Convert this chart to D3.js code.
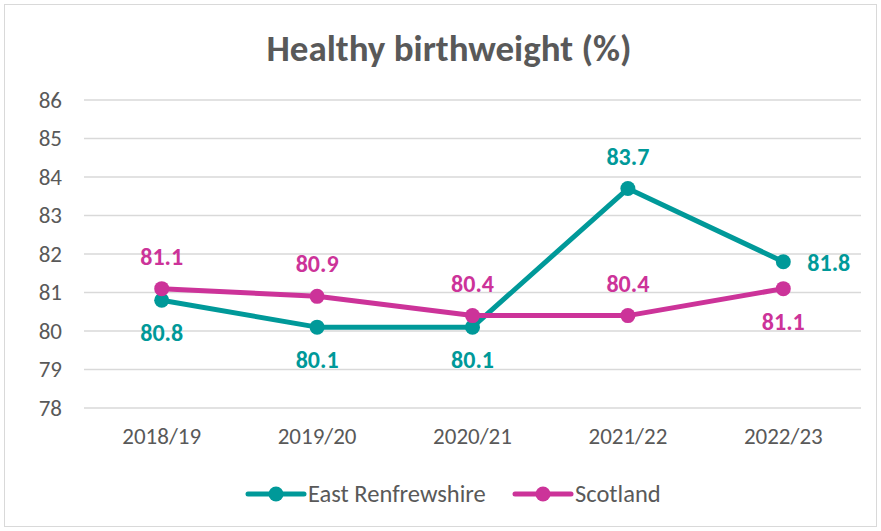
<!DOCTYPE html>
<html><head><meta charset="utf-8">
<script src="https://cdn.jsdelivr.net/npm/d3@7"></script>
<style>body{margin:0;background:#fff}svg{display:block}text{font-family:Calibri,Carlito,Lato,"Open Sans",sans-serif}</style>
</head><body><div id="chart"></div>
<script>
const categories = ["2018/19","2019/20","2020/21","2021/22","2022/23"];
const eastRenfrewshire = [80.8, 80.1, 80.1, 83.7, 81.8];
const scotland = [81.1, 80.9, 80.4, 80.4, 81.1];
const yTicks = [78,79,80,81,82,83,84,85,86];
const seriesNames = ["East Renfrewshire","Scotland"];
// label placement per point: a=above, b=below, r=right
const erLabelPos = ["b","b","b","a","r"];
const scLabelPos = ["a","a","a","a","b"];

const W=881,H=531;
const colors = ["#009999","#CC3399"];
const svg = d3.select("#chart").append("svg").attr("width",W).attr("height",H);
svg.append("rect").attr("x",4.5).attr("y",4.5).attr("width",W-9).attr("height",H-9)
  .attr("fill","#fff").attr("stroke","#d9d9d9").attr("stroke-width",1);

const x = d3.scaleBand().domain(categories).range([84,861]);
const y = d3.scaleLinear().domain([78,86]).range([408,100]);

svg.append("text").attr("x",449).attr("y",61).attr("text-anchor","middle")
  .attr("font-size",37).attr("font-weight","bold").attr("fill","#595959").text("Healthy birthweight (%)");

const grid = svg.append("g");
yTicks.forEach(t=>{
  grid.append("line").attr("x1",84).attr("x2",861).attr("y1",y(t)).attr("y2",y(t))
    .attr("stroke","#d9d9d9").attr("stroke-width",1.5);
});
const yAxis = d3.axisLeft(y).tickValues(yTicks).tickSize(0).tickPadding(0);
const ga = svg.append("g").attr("transform","translate(62,0)").call(yAxis);
ga.select(".domain").remove();
ga.selectAll("text").attr("font-size",23).attr("fill","#595959").attr("font-family",null);

const xAxis = d3.axisBottom(x).tickSize(0).tickPadding(0);
const gx = svg.append("g").attr("transform","translate(0,430)").call(xAxis);
gx.select(".domain").remove();
gx.selectAll("text").attr("font-size",23).attr("fill","#595959").attr("font-family",null).attr("dy","0.6em");

const line = d3.line().x((d,i)=>x(categories[i])+x.bandwidth()/2).y(d=>y(d));
const data = [[eastRenfrewshire,erLabelPos],[scotland,scLabelPos]];
data.forEach(([vals],k)=>{
  svg.append("path").datum(vals).attr("d",line).attr("fill","none")
    .attr("stroke",colors[k]).attr("stroke-width",5).attr("stroke-linejoin","round");
});
data.forEach(([vals],k)=>{
  svg.append("g").selectAll("circle").data(vals).join("circle")
    .attr("cx",(d,i)=>x(categories[i])+x.bandwidth()/2).attr("cy",d=>y(d)).attr("r",7.5)
    .attr("fill",colors[k]);
});
data.forEach(([vals,pos],k)=>{
  svg.append("g").selectAll("text").data(vals).join("text")
    .attr("x",(d,i)=>x(categories[i])+x.bandwidth()/2 + (pos[i]==="r"?24:0))
    .attr("y",(d,i)=>y(d) + (pos[i]==="a"?-24:pos[i]==="b"?41:9))
    .attr("text-anchor",(d,i)=>pos[i]==="r"?"start":"middle")
    .attr("font-size",24).attr("font-weight","bold").attr("fill",colors[k])
    .text(d=>d.toFixed(1));
});

const legX=[248,515];
seriesNames.forEach((n,k)=>{
  const g=svg.append("g");
  g.append("line").attr("x1",legX[k]).attr("x2",legX[k]+56).attr("y1",494).attr("y2",494)
    .attr("stroke",colors[k]).attr("stroke-width",5).attr("stroke-linecap","round");
  g.append("circle").attr("cx",legX[k]+28).attr("cy",494).attr("r",7.5).attr("fill",colors[k]);
  g.append("text").attr("x",legX[k]+60).attr("y",502).attr("font-size",24.5).attr("fill","#595959").text(n);
});
</script></body></html>
